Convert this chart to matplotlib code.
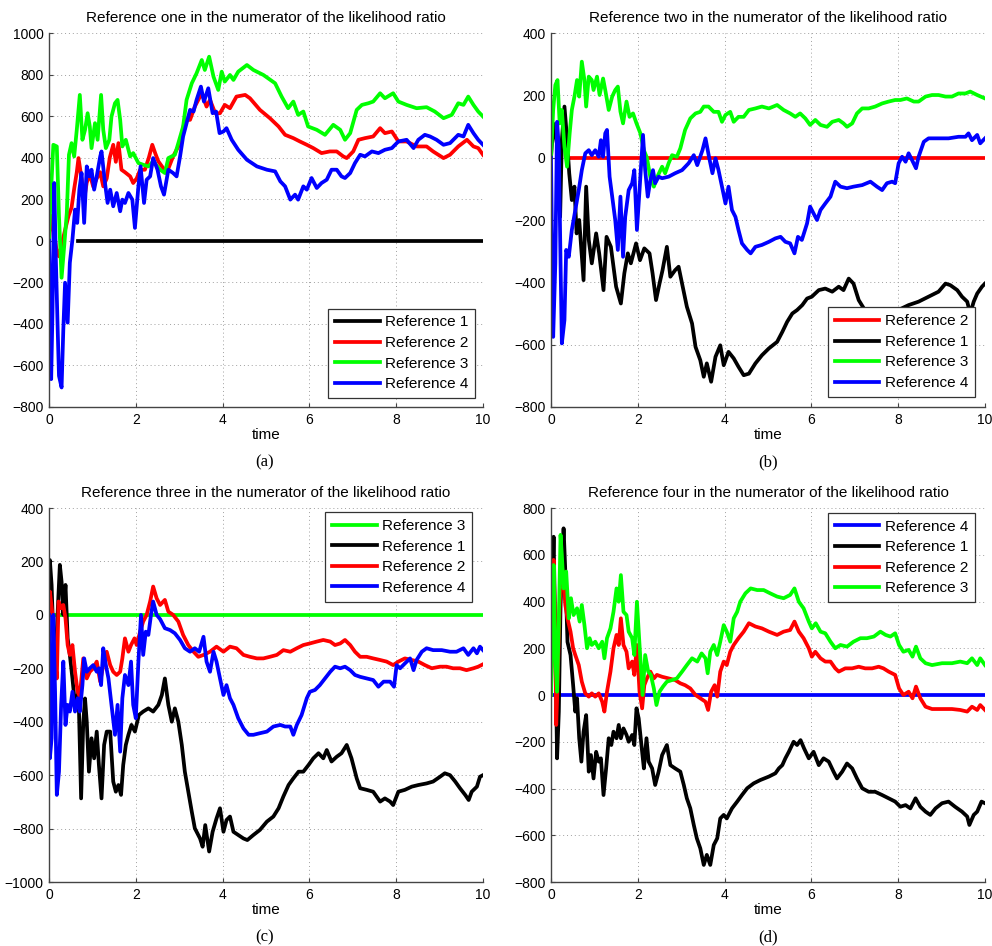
import numpy as np
import matplotlib
matplotlib.use('Agg')
import matplotlib.pyplot as plt

plt.rcParams['font.family'] = ['Liberation Sans', 'DejaVu Sans']
plt.rcParams['font.size'] = 10

# ---------------- data ----------------
# (a) reference one in the numerator
a_ref1_t = [0.67, 10.0]
a_ref1_v = [0, 0]
a_ref2_t = [0, 0.05, 0.10, 0.17, 0.23, 0.30, 0.38, 0.45, 0.52, 0.58, 0.64, 0.68, 0.75, 0.81, 0.87, 0.94,
            1.02, 1.10, 1.18, 1.25, 1.33, 1.40, 1.48, 1.54, 1.60, 1.67, 1.75, 1.87, 1.94, 2.02, 2.10, 2.21,
            2.30, 2.38, 2.45, 2.52, 2.63, 2.71, 2.86, 3.02, 3.13, 3.25, 3.36, 3.52, 3.63, 3.71, 3.83, 3.94,
            4.05, 4.17, 4.32, 4.52, 4.63, 4.86, 5.09, 5.29, 5.44, 5.63, 5.78, 5.94, 6.09, 6.28, 6.47, 6.63,
            6.78, 6.86, 7.01, 7.13, 7.28, 7.47, 7.63, 7.74, 7.90, 8.05, 8.24, 8.47, 8.70, 8.85, 9.09, 9.24,
            9.43, 9.63, 9.78, 9.89, 10.0]
a_ref2_v = [0, 120, 60, -40, -75, -10, 60, 120, 160, 250, 330, 398, 300, 200, 280, 320,
            260, 300, 330, 262, 300, 400, 462, 380, 470, 342, 330, 310, 278, 300, 342, 342,
            400, 462, 420, 382, 350, 326, 406, 470, 582, 582, 646, 710, 646, 678, 614, 614,
            654, 638, 694, 702, 686, 630, 590, 550, 510, 494, 478, 462, 446, 422, 430, 430,
            406, 398, 430, 486, 494, 502, 542, 518, 526, 478, 478, 454, 454, 430, 398, 414,
            454, 486, 454, 446, 414]
a_ref3_t = [0, 0.03, 0.10, 0.18, 0.23, 0.29, 0.35, 0.41, 0.46, 0.52, 0.58, 0.64, 0.71, 0.77, 0.83, 0.89,
            0.94, 0.98, 1.06, 1.12, 1.20, 1.25, 1.31, 1.39, 1.44, 1.52, 1.58, 1.64, 1.69, 1.77, 1.87, 1.94,
            2.06, 2.17, 2.29, 2.40, 2.56, 2.67, 2.75, 2.90, 2.98, 3.09, 3.17, 3.29, 3.40, 3.52, 3.59, 3.69,
            3.79, 3.90, 3.98, 4.05, 4.17, 4.25, 4.36, 4.56, 4.71, 4.94, 5.21, 5.36, 5.51, 5.63, 5.74, 5.86,
            5.97, 6.17, 6.36, 6.55, 6.71, 6.82, 6.94, 7.09, 7.21, 7.36, 7.47, 7.63, 7.74, 7.93, 8.05, 8.24,
            8.47, 8.70, 8.89, 9.09, 9.28, 9.43, 9.55, 9.66, 9.78, 9.89, 10.0]
a_ref3_v = [0, 166, 462, 454, 118, -178, -26, 134, 414, 470, 406, 534, 702, 486, 534, 614,
            550, 446, 566, 486, 702, 534, 446, 486, 598, 662, 678, 582, 454, 486, 406, 422,
            374, 366, 358, 382, 342, 326, 398, 414, 470, 550, 678, 758, 806, 870, 822, 886,
            790, 726, 814, 766, 798, 774, 814, 846, 822, 798, 758, 694, 638, 670, 606, 622,
            550, 534, 510, 558, 534, 486, 518, 630, 654, 662, 670, 710, 686, 710, 670, 654,
            638, 643, 622, 590, 606, 662, 654, 694, 654, 622, 598]
a_ref4_t = [0, 0.05, 0.08, 0.12, 0.16, 0.20, 0.23, 0.29, 0.33, 0.37, 0.43, 0.48, 0.54, 0.60, 0.65, 0.70,
            0.75, 0.81, 0.87, 0.93, 0.98, 1.04, 1.10, 1.18, 1.21, 1.29, 1.35, 1.41, 1.48, 1.56, 1.64, 1.69,
            1.75, 1.83, 1.92, 1.98, 2.06, 2.11, 2.19, 2.25, 2.33, 2.40, 2.50, 2.58, 2.65, 2.75, 2.86, 2.94,
            3.02, 3.09, 3.17, 3.25, 3.33, 3.40, 3.50, 3.57, 3.67, 3.77, 3.85, 3.93, 4.02, 4.09, 4.21, 4.36,
            4.56, 4.79, 5.02, 5.21, 5.33, 5.44, 5.56, 5.67, 5.74, 5.86, 5.94, 6.05, 6.17, 6.28, 6.40, 6.51,
            6.63, 6.74, 6.82, 6.94, 7.05, 7.17, 7.28, 7.44, 7.59, 7.74, 7.90, 8.05, 8.24, 8.40, 8.51, 8.66,
            8.78, 8.93, 9.09, 9.24, 9.43, 9.55, 9.66, 9.78, 9.89, 10.0]
a_ref4_v = [0, -666, -346, 278, -106, -426, -650, -706, -426, -202, -394, -106, 6, 150, 86, 246,
            326, 86, 358, 310, 342, 246, 310, 406, 430, 278, 182, 246, 166, 230, 142, 198,
            182, 230, 198, 62, 262, 358, 182, 294, 310, 398, 342, 262, 222, 342, 326, 310,
            406, 502, 566, 630, 622, 678, 742, 670, 734, 614, 622, 518, 526, 542, 486, 438,
            390, 358, 342, 334, 286, 262, 198, 222, 198, 262, 246, 302, 254, 278, 294, 342,
            342, 310, 302, 326, 374, 414, 406, 430, 422, 438, 446, 478, 486, 446, 486, 510,
            502, 486, 462, 470, 510, 502, 558, 518, 486, 462]

# (b) reference two in the numerator
b_ref2_t = [0.45, 10.0]
b_ref2_v = [0, 0]
b_ref1_t = [0, 0.05, 0.15, 0.21, 0.25, 0.31, 0.36, 0.42, 0.48, 0.54, 0.59, 0.65, 0.75, 0.81, 0.87, 0.94,
            1.04, 1.11, 1.21, 1.28, 1.38, 1.50, 1.61, 1.69, 1.77, 1.84, 1.96, 2.05, 2.15, 2.27, 2.34, 2.42,
            2.50, 2.57, 2.67, 2.75, 2.86, 2.94, 3.02, 3.13, 3.25, 3.33, 3.44, 3.52, 3.59, 3.69, 3.79, 3.90,
            3.98, 4.09, 4.21, 4.32, 4.44, 4.56, 4.71, 4.86, 5.02, 5.21, 5.33, 5.44, 5.56, 5.67, 5.79, 5.90,
            6.01, 6.17, 6.32, 6.48, 6.63, 6.74, 6.86, 6.97, 7.09, 7.21, 7.32, 7.50, 7.75, 8.00, 8.24, 8.47,
            8.70, 8.93, 9.09, 9.20, 9.36, 9.47, 9.59, 9.66, 9.74, 9.82, 9.93, 10.0]
b_ref1_v = [0, 110, 35, -190, 57, 164, 78, -50, -136, -93, -243, -200, -393, -93, -264, -339,
            -243, -307, -425, -254, -286, -414, -468, -371, -307, -339, -275, -329, -291, -307, -371, -457,
            -404, -361, -286, -382, -361, -350, -404, -478, -532, -607, -650, -703, -660, -719, -639, -602,
            -666, -623, -644, -671, -698, -693, -660, -634, -612, -591, -559, -527, -500, -489, -473, -452,
            -446, -425, -420, -430, -414, -425, -388, -404, -457, -484, -489, -500, -505, -489, -473, -462,
            -446, -430, -404, -409, -425, -446, -462, -500, -462, -436, -414, -404]
b_ref3_t = [0, 0.05, 0.10, 0.15, 0.20, 0.25, 0.31, 0.37, 0.43, 0.48, 0.54, 0.60, 0.65, 0.71, 0.77, 0.81,
            0.87, 0.94, 0.98, 1.06, 1.12, 1.20, 1.25, 1.33, 1.41, 1.48, 1.54, 1.60, 1.66, 1.74, 1.81, 1.89,
            1.97, 2.06, 2.14, 2.21, 2.29, 2.37, 2.44, 2.56, 2.63, 2.71, 2.79, 2.90, 2.98, 3.09, 3.21, 3.33,
            3.44, 3.52, 3.63, 3.75, 3.86, 3.94, 4.02, 4.13, 4.21, 4.32, 4.44, 4.56, 4.71, 4.86, 5.02, 5.21,
            5.36, 5.51, 5.63, 5.74, 5.86, 5.97, 6.09, 6.21, 6.36, 6.48, 6.63, 6.74, 6.82, 6.94, 7.05, 7.17,
            7.32, 7.47, 7.63, 7.78, 7.93, 8.05, 8.20, 8.36, 8.47, 8.63, 8.78, 8.93, 9.09, 9.24, 9.39, 9.55,
            9.66, 9.82, 10.0]
b_ref3_v = [0, 153, 233, 249, 110, 153, 35, -29, 78, 153, 196, 249, 196, 308, 249, 164,
            260, 249, 217, 260, 201, 254, 217, 153, 196, 217, 228, 148, 110, 180, 131, 142,
            110, 78, 24, 0, -64, -93, -64, -29, -50, -18, 8, 3, 30, 89, 126, 142,
            147, 164, 164, 147, 147, 115, 137, 147, 115, 131, 131, 153, 158, 164, 158, 169,
            153, 142, 131, 142, 126, 105, 121, 105, 99, 115, 121, 110, 99, 110, 142, 158,
            158, 164, 174, 180, 185, 185, 190, 180, 180, 196, 201, 201, 196, 196, 206, 206,
            212, 201, 190]
b_ref4_t = [0, 0.05, 0.10, 0.14, 0.18, 0.22, 0.25, 0.31, 0.35, 0.41, 0.48, 0.56, 0.64, 0.71, 0.79, 0.87,
            0.94, 1.02, 1.10, 1.15, 1.20, 1.25, 1.29, 1.35, 1.41, 1.48, 1.54, 1.60, 1.66, 1.71, 1.79, 1.87,
            1.92, 1.98, 2.04, 2.12, 2.17, 2.23, 2.29, 2.35, 2.40, 2.48, 2.56, 2.71, 2.86, 3.02, 3.17, 3.29,
            3.37, 3.49, 3.56, 3.64, 3.72, 3.79, 3.86, 3.94, 4.02, 4.09, 4.17, 4.25, 4.32, 4.40, 4.52, 4.60,
            4.71, 4.86, 5.02, 5.17, 5.29, 5.40, 5.51, 5.61, 5.69, 5.78, 5.90, 5.97, 6.05, 6.13, 6.21, 6.32,
            6.44, 6.55, 6.67, 6.82, 6.97, 7.17, 7.36, 7.51, 7.63, 7.74, 7.86, 7.93, 8.01, 8.09, 8.17, 8.24,
            8.32, 8.41, 8.47, 8.59, 8.70, 8.93, 9.16, 9.39, 9.55, 9.62, 9.70, 9.82, 9.89, 10.0]
b_ref4_v = [0, -575, -339, 115, 35, -339, -596, -521, -296, -318, -232, -168, -104, -40, 14, 24,
            8, 24, 3, 56, 3, 78, 89, -61, -125, -200, -296, -125, -318, -190, -104, -82,
            -40, -232, -104, 73, -40, -125, -72, -40, -82, -61, -66, -61, -50, -40, -18, 8,
            -24, 24, 62, 3, -50, -2, -40, -93, -147, -93, -168, -190, -232, -275, -296, -307,
            -286, -280, -270, -259, -254, -270, -275, -307, -254, -264, -211, -157, -179, -200, -168, -147,
            -125, -77, -93, -98, -93, -88, -77, -93, -104, -82, -77, -82, -18, 3, -13, 14,
            -8, -34, 3, 51, 62, 62, 62, 67, 67, 78, 56, 73, 46, 62]

# (c) reference three in the numerator
c_ref3_t = [0.14, 10.0]
c_ref3_v = [0, 0]
c_ref1_t = [0, 0.02, 0.06, 0.10, 0.14, 0.20, 0.25, 0.29, 0.33, 0.38, 0.43, 0.48, 0.54, 0.60, 0.68, 0.74,
            0.79, 0.83, 0.87, 0.92, 0.98, 1.04, 1.10, 1.15, 1.21, 1.27, 1.33, 1.41, 1.48, 1.54, 1.60, 1.66,
            1.71, 1.77, 1.83, 1.90, 1.98, 2.07, 2.17, 2.29, 2.40, 2.52, 2.60, 2.67, 2.75, 2.83, 2.90, 2.98,
            3.06, 3.13, 3.21, 3.29, 3.36, 3.48, 3.54, 3.60, 3.69, 3.77, 3.86, 3.94, 4.02, 4.09, 4.17, 4.25,
            4.36, 4.48, 4.57, 4.71, 4.86, 5.02, 5.17, 5.29, 5.40, 5.52, 5.63, 5.75, 5.86, 5.98, 6.09, 6.21,
            6.32, 6.40, 6.51, 6.63, 6.74, 6.86, 6.97, 7.09, 7.17, 7.32, 7.47, 7.63, 7.74, 7.86, 7.93, 8.05,
            8.20, 8.36, 8.51, 8.70, 8.85, 9.01, 9.12, 9.24, 9.36, 9.47, 9.59, 9.67, 9.74, 9.86, 9.93, 10.0]
c_ref1_v = [0, 205, 112, -88, -213, 11, 187, 124, 0, 112, -88, -150, -238, -337, -288, -687,
            -400, -313, -400, -587, -462, -537, -437, -562, -687, -487, -437, -437, -624, -662, -637, -674,
            -562, -487, -449, -412, -437, -375, -362, -350, -362, -337, -300, -238, -337, -400, -350, -400,
            -487, -587, -662, -737, -799, -837, -868, -787, -886, -812, -762, -724, -812, -768, -755, -812,
            -824, -837, -843, -824, -805, -774, -755, -724, -680, -637, -612, -587, -587, -562, -537, -518,
            -537, -506, -549, -531, -518, -487, -537, -612, -649, -655, -662, -699, -687, -699, -712, -662,
            -655, -643, -637, -631, -624, -606, -593, -600, -624, -649, -674, -693, -662, -643, -606, -600]
c_ref2_t = [0, 0.02, 0.08, 0.12, 0.18, 0.22, 0.28, 0.33, 0.38, 0.43, 0.48, 0.54, 0.60, 0.66, 0.71, 0.79,
            0.87, 0.94, 1.02, 1.10, 1.18, 1.25, 1.33, 1.41, 1.48, 1.56, 1.64, 1.69, 1.75, 1.83, 1.89, 1.97,
            2.02, 2.10, 2.17, 2.25, 2.33, 2.40, 2.48, 2.56, 2.67, 2.75, 2.86, 2.98, 3.09, 3.21, 3.33, 3.44,
            3.56, 3.71, 3.86, 4.02, 4.17, 4.32, 4.48, 4.63, 4.79, 4.94, 5.09, 5.25, 5.40, 5.56, 5.71, 5.86,
            6.01, 6.17, 6.32, 6.48, 6.59, 6.71, 6.82, 6.94, 7.05, 7.17, 7.32, 7.47, 7.63, 7.78, 7.93, 8.05,
            8.20, 8.36, 8.51, 8.66, 8.82, 9.01, 9.16, 9.31, 9.47, 9.62, 9.78, 9.89, 10.0]
c_ref2_v = [0, 87, 0, -125, -238, 50, 25, 37, -13, -113, -150, -113, -213, -288, -306, -163,
            -238, -213, -200, -175, -250, -188, -138, -188, -213, -225, -213, -163, -88, -138, -113, -88,
            -113, -63, -25, 0, 50, 106, 62, 37, 56, 12, 0, -25, -75, -113, -138, -157,
            -150, -138, -119, -138, -119, -125, -150, -157, -163, -163, -157, -150, -132, -138, -125, -113,
            -107, -100, -94, -100, -113, -107, -94, -113, -138, -157, -157, -163, -169, -175, -188, -175,
            -163, -169, -175, -188, -200, -194, -194, -200, -200, -207, -200, -194, -185]
c_ref4_t = [0, 0.02, 0.06, 0.10, 0.14, 0.18, 0.23, 0.28, 0.33, 0.38, 0.43, 0.48, 0.54, 0.60, 0.66, 0.71,
            0.77, 0.81, 0.87, 0.94, 1.02, 1.10, 1.15, 1.20, 1.25, 1.31, 1.37, 1.44, 1.52, 1.58, 1.64, 1.69,
            1.75, 1.83, 1.89, 1.94, 2.00, 2.06, 2.12, 2.17, 2.23, 2.29, 2.35, 2.40, 2.48, 2.56, 2.67, 2.79,
            2.90, 3.02, 3.13, 3.25, 3.36, 3.46, 3.56, 3.63, 3.71, 3.79, 3.86, 3.94, 4.02, 4.09, 4.17, 4.25,
            4.36, 4.48, 4.60, 4.71, 4.86, 5.02, 5.17, 5.33, 5.44, 5.56, 5.63, 5.71, 5.82, 5.94, 6.01, 6.13,
            6.24, 6.36, 6.48, 6.59, 6.71, 6.82, 6.94, 7.05, 7.17, 7.32, 7.47, 7.59, 7.71, 7.86, 7.95, 8.01,
            8.09, 8.20, 8.32, 8.40, 8.47, 8.59, 8.70, 8.85, 9.05, 9.24, 9.39, 9.55, 9.66, 9.78, 9.86, 9.93,
            10.0]
c_ref4_v = [0, -537, -462, 0, -288, -674, -587, -337, -175, -412, -337, -362, -288, -362, -312, -362,
            -263, -163, -213, -200, -188, -213, -200, -263, -125, -188, -238, -337, -449, -337, -512, -312,
            -225, -263, -175, -337, -387, -175, 0, -150, -63, -75, 0, 50, 0, -16, -50, -57,
            -69, -94, -125, -138, -125, -138, -82, -175, -213, -138, -175, -238, -300, -263, -312, -337,
            -387, -425, -449, -449, -443, -437, -418, -412, -418, -418, -449, -412, -375, -312, -288, -281,
            -263, -238, -213, -194, -200, -194, -207, -225, -232, -238, -244, -269, -250, -250, -269, -188,
            -200, -182, -163, -207, -169, -138, -125, -132, -132, -138, -138, -125, -150, -125, -144, -119,
            -132]

# (d) reference four in the numerator
d_ref4_t = [0, 10.0]
d_ref4_v = [0, 0]
d_ref1_t = [0, 0.02, 0.06, 0.10, 0.14, 0.18, 0.22, 0.25, 0.29, 0.33, 0.38, 0.45, 0.51, 0.56, 0.60, 0.65,
            0.70, 0.75, 0.81, 0.87, 0.92, 0.98, 1.04, 1.10, 1.15, 1.21, 1.27, 1.33, 1.39, 1.44, 1.51, 1.56,
            1.61, 1.67, 1.74, 1.79, 1.87, 1.92, 1.97, 2.02, 2.10, 2.14, 2.20, 2.25, 2.33, 2.40, 2.48, 2.56,
            2.67, 2.75, 2.86, 2.98, 3.06, 3.13, 3.21, 3.29, 3.36, 3.44, 3.52, 3.59, 3.67, 3.75, 3.83, 3.90,
            3.98, 4.05, 4.17, 4.29, 4.40, 4.52, 4.67, 4.82, 5.02, 5.17, 5.25, 5.33, 5.40, 5.48, 5.59, 5.67,
            5.75, 5.83, 5.94, 6.05, 6.17, 6.28, 6.40, 6.51, 6.59, 6.71, 6.82, 6.94, 7.05, 7.17, 7.32, 7.47,
            7.63, 7.78, 7.93, 8.05, 8.17, 8.28, 8.40, 8.51, 8.63, 8.74, 8.86, 9.01, 9.16, 9.31, 9.47, 9.59,
            9.64, 9.74, 9.82, 9.92, 10.0]
d_ref1_v = [0, 385, 677, 241, -271, -71, 385, 528, 713, 528, 227, 171, 42, -71, -14, -185,
            -285, -157, -86, -328, -257, -357, -243, -285, -271, -428, -314, -185, -214, -157, -185, -128,
            -185, -143, -171, -200, -171, -214, -57, -100, -243, -314, -185, -285, -314, -385, -328, -257,
            -214, -300, -314, -328, -385, -442, -485, -556, -613, -656, -727, -684, -727, -642, -613, -528,
            -513, -528, -485, -456, -428, -399, -378, -364, -349, -335, -314, -300, -271, -243, -200, -214,
            -193, -228, -271, -243, -300, -271, -285, -328, -357, -328, -293, -314, -357, -399, -414, -414,
            -428, -442, -456, -478, -471, -485, -442, -478, -499, -513, -485, -463, -456, -478, -499, -520,
            -556, -513, -499, -456, -463]
d_ref2_t = [0, 0.02, 0.06, 0.10, 0.12, 0.15, 0.20, 0.25, 0.29, 0.33, 0.38, 0.45, 0.51, 0.56, 0.64, 0.71,
            0.79, 0.87, 0.94, 1.02, 1.10, 1.18, 1.23, 1.29, 1.37, 1.44, 1.51, 1.56, 1.61, 1.67, 1.74, 1.79,
            1.87, 1.92, 1.98, 2.04, 2.10, 2.15, 2.21, 2.29, 2.37, 2.44, 2.56, 2.71, 2.86, 2.98, 3.09, 3.21,
            3.33, 3.44, 3.56, 3.62, 3.69, 3.77, 3.83, 3.90, 3.98, 4.05, 4.13, 4.21, 4.32, 4.44, 4.56, 4.71,
            4.86, 5.02, 5.21, 5.36, 5.51, 5.61, 5.71, 5.82, 5.94, 6.01, 6.09, 6.21, 6.32, 6.44, 6.55, 6.63,
            6.78, 6.94, 7.09, 7.24, 7.40, 7.55, 7.66, 7.78, 7.93, 8.02, 8.12, 8.24, 8.33, 8.41, 8.51, 8.63,
            8.78, 9.01, 9.24, 9.43, 9.59, 9.70, 9.82, 9.89, 10.0]
d_ref2_v = [0, 271, 578, 241, -128, 42, 385, 556, 485, 385, 328, 271, 200, 171, 128, 57,
            7, -7, 7, -7, 7, -29, -71, 14, 100, 200, 257, 214, 328, 214, 185, 114,
            143, 86, 214, 14, -57, 42, 71, 100, 71, 86, 78, 71, 64, 50, 42, 28,
            0, -14, -29, -64, 14, 42, -7, 100, 143, 128, 185, 214, 243, 271, 307, 293,
            285, 271, 257, 271, 278, 314, 271, 243, 200, 164, 185, 157, 143, 143, 114, 100,
            114, 114, 121, 114, 114, 121, 114, 100, 86, 28, 0, 14, -14, 36, -14, -50,
            -60, -60, -60, -64, -71, -50, -64, -43, -64]
d_ref3_t = [0, 0.02, 0.06, 0.10, 0.14, 0.18, 0.22, 0.25, 0.29, 0.35, 0.41, 0.46, 0.52, 0.60, 0.66, 0.71,
            0.77, 0.83, 0.89, 0.94, 1.02, 1.10, 1.18, 1.23, 1.29, 1.37, 1.44, 1.51, 1.56, 1.61, 1.67, 1.74,
            1.79, 1.87, 1.92, 1.98, 2.04, 2.11, 2.17, 2.24, 2.30, 2.37, 2.43, 2.50, 2.58, 2.67, 2.79, 2.90,
            3.02, 3.13, 3.25, 3.37, 3.47, 3.56, 3.61, 3.67, 3.75, 3.83, 3.90, 3.98, 4.05, 4.13, 4.21, 4.29,
            4.36, 4.48, 4.60, 4.75, 4.90, 5.05, 5.21, 5.36, 5.51, 5.61, 5.71, 5.82, 5.94, 6.01, 6.10, 6.21,
            6.32, 6.44, 6.55, 6.67, 6.82, 6.97, 7.13, 7.28, 7.44, 7.59, 7.71, 7.82, 7.93, 8.02, 8.12, 8.24,
            8.33, 8.41, 8.51, 8.63, 8.78, 9.01, 9.24, 9.43, 9.59, 9.70, 9.82, 9.89, 10.0]
d_ref3_v = [0, 214, 556, 157, 14, 314, 685, 599, 456, 528, 328, 414, 342, 371, 314, 385,
            300, 200, 243, 214, 228, 200, 228, 157, 243, 285, 356, 456, 399, 513, 356, 342,
            271, 243, 171, 399, 214, 0, 171, 100, 86, 28, -43, 14, 36, 57, 64, 71,
            100, 128, 157, 143, 178, 157, 93, 185, 214, 171, 228, 299, 271, 228, 328, 356,
            399, 435, 456, 449, 449, 435, 421, 414, 428, 456, 399, 371, 314, 285, 307, 271,
            264, 228, 200, 214, 207, 228, 243, 243, 250, 271, 257, 250, 264, 214, 185, 193,
            164, 207, 157, 136, 128, 136, 136, 143, 136, 157, 128, 157, 128]

titles = ['Reference one in the numerator of the likelihood ratio',
          'Reference two in the numerator of the likelihood ratio',
          'Reference three in the numerator of the likelihood ratio',
          'Reference four in the numerator of the likelihood ratio']
captions = ['(a)', '(b)', '(c)', '(d)']
ylims = [(-800, 1000), (-800, 400), (-1000, 400), (-800, 800)]

BLACK, RED, GREEN, BLUE = '#000000', '#ff0000', '#00ff00', '#0000ff'

panels = [
    [(a_ref1_t, a_ref1_v, BLACK, 'Reference 1'), (a_ref2_t, a_ref2_v, RED, 'Reference 2'),
     (a_ref3_t, a_ref3_v, GREEN, 'Reference 3'), (a_ref4_t, a_ref4_v, BLUE, 'Reference 4')],
    [(b_ref2_t, b_ref2_v, RED, 'Reference 2'), (b_ref1_t, b_ref1_v, BLACK, 'Reference 1'),
     (b_ref3_t, b_ref3_v, GREEN, 'Reference 3'), (b_ref4_t, b_ref4_v, BLUE, 'Reference 4')],
    [(c_ref3_t, c_ref3_v, GREEN, 'Reference 3'), (c_ref1_t, c_ref1_v, BLACK, 'Reference 1'),
     (c_ref2_t, c_ref2_v, RED, 'Reference 2'), (c_ref4_t, c_ref4_v, BLUE, 'Reference 4')],
    [(d_ref4_t, d_ref4_v, BLUE, 'Reference 4'), (d_ref1_t, d_ref1_v, BLACK, 'Reference 1'),
     (d_ref2_t, d_ref2_v, RED, 'Reference 2'), (d_ref3_t, d_ref3_v, GREEN, 'Reference 3')],
]

# ---------------- layout (pixel boxes of the four axes) ----------------
W, H = 992, 946
boxes = [(49, 33, 483, 407), (551, 33, 985, 407), (49, 508, 483, 882), (551, 508, 985, 882)]
legend_loc = ['lower right', 'lower right', 'upper right', 'upper right']
legend_anchor = [(0.982, 0.024), (0.977, 0.027), (0.975, 0.989), (0.977, 0.987)]
caption_xy = [(265, 462), (768, 462), (265, 937), (768, 937)]

fig = plt.figure(figsize=(W / 100, H / 100), dpi=100)

for i, series in enumerate(panels):
    x0, y0, x1, y1 = boxes[i]
    ax = fig.add_axes([x0 / W, 1 - y1 / H, (x1 - x0) / W, (y1 - y0) / H])
    for t, v, col, lab in series:
        ax.plot(t, v, color=col, lw=2.7, label=lab, solid_joinstyle='round')
    lo, hi = ylims[i]
    ax.set_xlim(0, 10)
    ax.set_ylim(lo, hi)
    ax.set_xticks(np.arange(0, 11, 2))
    ax.set_yticks(np.arange(lo, hi + 1, 200))
    ax.grid(True, color='#a0a0a0', linestyle=(0, (1, 3)), linewidth=0.7)
    ax.set_axisbelow(True)
    for s in ['top', 'right']:
        ax.spines[s].set_visible(False)
    for s in ['left', 'bottom']:
        ax.spines[s].set_color('#444444')
        ax.spines[s].set_linewidth(1.0)
    ax.tick_params(direction='in', length=3, width=0.8, colors='#444444',
                   labelcolor='black', labelsize=10, pad=4)
    ax.set_title(titles[i], fontsize=11, pad=8)
    ax.set_xlabel('time', fontsize=11, labelpad=1)
    leg = ax.legend(loc=legend_loc[i], bbox_to_anchor=legend_anchor[i], borderaxespad=0,
                    fancybox=False, framealpha=1, edgecolor='#333333', fontsize=11,
                    handlelength=2.9, handletextpad=0.35, labelspacing=0.43, borderpad=0.45)
    leg.get_frame().set_linewidth(0.9)
    cx, cy = caption_xy[i]
    fig.text(cx / W, 1 - cy / H, captions[i], ha='center', va='center',
             family=['Liberation Serif', 'DejaVu Serif'], fontsize=12)

fig.savefig('out.png', dpi=100)
